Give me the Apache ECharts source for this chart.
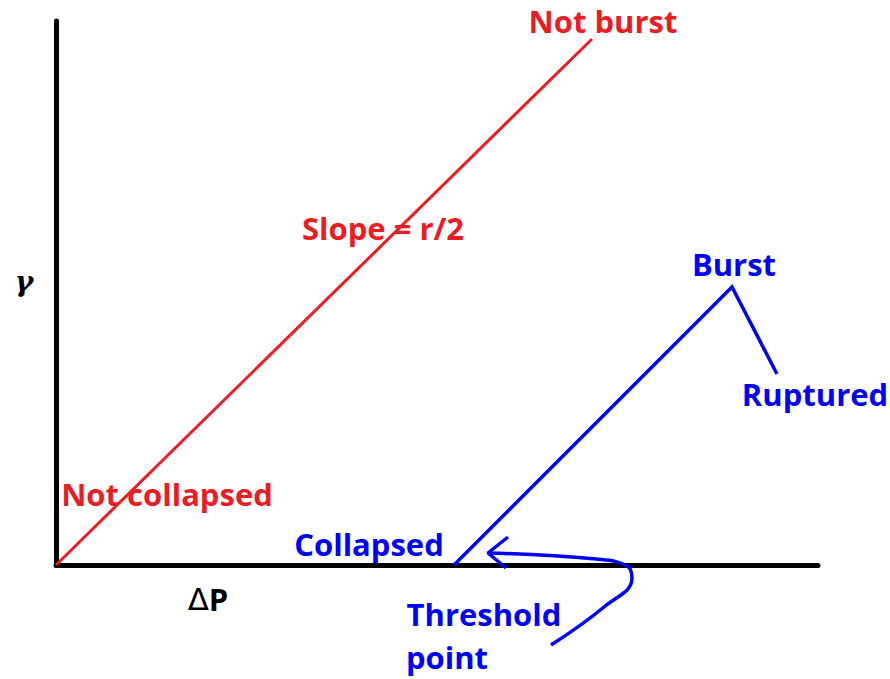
<!DOCTYPE html>
<html><head><meta charset="utf-8">
<script src="https://cdn.jsdelivr.net/npm/echarts@6/dist/echarts.min.js"></script>
<style>html,body{margin:0;padding:0;background:#fff}#c{width:890px;height:679px}</style>
</head><body><div id="c"></div>
<script>
// axis extents (data units)
const xExtent = [0, 762];
const yExtent = [0, 544];
// red line: not collapsed -> not burst
const redLine = [[0, 0], [536, 526]];
// blue line: threshold -> burst -> ruptured
const blueLine = [[398, 0], [676, 278], [721, 191]];
// arrow pointing at threshold point
const arrowCurve = [[495, -80], [548, -42], [576, -13], [571, -1], [540, 6], [432, 12]];
const arrowHead = [[452, 28], [432, 12], [450, -3]];
// annotation labels
const redTexts = ['Not burst', 'Slope = r/2', 'Not collapsed'];
const redPos = [[547, 544], [327, 337], [111, 71]];
const blueTexts = ['Burst', 'Ruptured', 'Collapsed', 'Threshold', 'point'];
const bluePos = [[678, 301], [759, 171], [313, 21], [428, -49], [391, -92]];
const axisNames = ['ΔP', 'γ'];

const RED = '#ed1c24', BLUE = '#0000ff';
const FONT = '"Open Sans", sans-serif';

function labelSeries(texts, pos, color) {
  return {
    type: 'scatter', symbolSize: 1, clip: false, silent: true,
    itemStyle: { color: 'rgba(0,0,0,0)', opacity: 1 },
    data: texts.map((t, i) => ({ value: pos[i], name: t })),
    label: {
      show: true, position: 'inside', formatter: p => p.name,
      color: color, fontFamily: FONT, fontWeight: 'bold', fontSize: 31
    },
    z: 5
  };
}

const chart = echarts.init(document.getElementById('c'), null, { renderer: 'svg' });
chart.setOption({
  animation: false,
  backgroundColor: '#fff',
  grid: { left: 56, right: 72, top: 21, bottom: 114 },
  xAxis: {
    type: 'value', min: xExtent[0], max: xExtent[1],
    axisLine: { show: true, onZero: false, lineStyle: { color: '#000', width: 5 } },
    axisTick: { show: false }, axisLabel: { show: false }, splitLine: { show: false }
  },
  yAxis: {
    type: 'value', min: yExtent[0], max: yExtent[1],
    axisLine: { show: true, onZero: false, lineStyle: { color: '#000', width: 5 } },
    axisTick: { show: false }, axisLabel: { show: false }, splitLine: { show: false }
  },
  series: [
    { type: 'line', data: redLine, symbol: 'none', clip: false, lineStyle: { color: RED, width: 3 }, z: 3 },
    { type: 'line', data: blueLine, symbol: 'none', clip: false, lineStyle: { color: BLUE, width: 3.5, join: 'miter' }, z: 3 },
    { type: 'line', data: arrowCurve, symbol: 'none', clip: false, smooth: 0.45, lineStyle: { color: BLUE, width: 3.5 }, z: 3 },
    { type: 'line', data: arrowHead, symbol: 'none', clip: false, lineStyle: { color: BLUE, width: 3.5 }, z: 3 },
    labelSeries(redTexts, redPos, RED),
    labelSeries(blueTexts, bluePos, BLUE),
    {
      type: 'scatter', symbolSize: 1, clip: false, silent: true,
      itemStyle: { color: 'rgba(0,0,0,0)', opacity: 1 },
      data: [{ value: [152, -34], name: axisNames[0] }],
      label: {
        show: true, position: 'inside', formatter: '{d|Δ}{p|P}',
        rich: {
          d: { fontFamily: '"DejaVu Sans", sans-serif', fontSize: 31, color: '#000' },
          p: { fontFamily: FONT, fontWeight: 'bold', fontSize: 31, color: '#000' }
        }
      }
    },
    {
      type: 'scatter', symbolSize: 1, clip: false, silent: true,
      itemStyle: { color: 'rgba(0,0,0,0)', opacity: 1 },
      data: [{ value: [-32, 284], name: axisNames[1] }],
      label: {
        show: true, position: 'inside', formatter: p => p.name,
        fontFamily: '"DejaVu Serif", serif', fontStyle: 'italic', fontWeight: 'bold', fontSize: 28, color: '#000'
      }
    }
  ]
});
</script></body></html>
